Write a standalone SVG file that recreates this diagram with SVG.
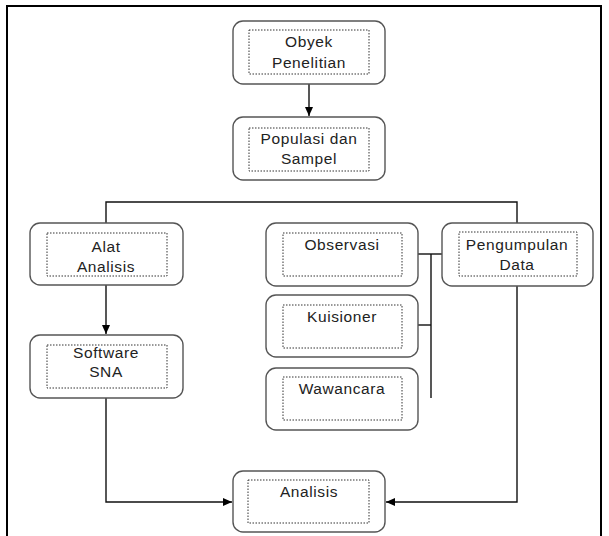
<svg xmlns="http://www.w3.org/2000/svg" width="609" height="536" viewBox="0 0 609 536">
<defs>
<marker id="ah" markerWidth="10" markerHeight="10" refX="9" refY="5" orient="auto" markerUnits="userSpaceOnUse">
<path d="M0,1 L9,5 L0,9 Z" fill="#000"/>
</marker>
</defs>
<style>
.box{fill:#fff;stroke:#555;stroke-width:1.4}
.inner{fill:none;stroke:#333;stroke-width:1;stroke-dasharray:1.5 1.5}
.t{font-family:"Liberation Sans",Arial,sans-serif;font-size:15.5px;letter-spacing:0.6px;fill:#222;text-anchor:middle}
.c{fill:none;stroke:#111;stroke-width:1.4}
</style>
<rect width="609" height="536" fill="#fff"/>
<path d="M7,536 V6 H601 V536" fill="none" stroke="#000" stroke-width="2"/>
<g id="connectors">
<path class="c" d="M309,84 V116" stroke="#555" marker-end="url(#ah)"/>
<path class="c" d="M106,223 V202 H517 V223"/>
<path class="c" d="M106,285 V334" marker-end="url(#ah)"/>
<path class="c" d="M106,398 V502 H232" marker-end="url(#ah)"/>
<path class="c" d="M517,286 V502 H386" marker-end="url(#ah)"/>
<path class="c" d="M418,254 H442"/>
<path class="c" d="M431,254 V398"/>
<path class="c" d="M418,325 H431"/>
</g>
<g id="obyek">
<rect class="box" x="233" y="21" width="152" height="63" rx="10"/>
<rect class="inner" x="249" y="30" width="120" height="44"/>
<text class="t" x="309" y="47">Obyek</text>
<text class="t" x="309" y="68">Penelitian</text>
</g>
<g id="populasi">
<rect class="box" x="233" y="117" width="152" height="63" rx="10"/>
<rect class="inner" x="249" y="128" width="120" height="43"/>
<text class="t" x="309" y="144">Populasi dan</text>
<text class="t" x="309" y="164">Sampel</text>
</g>
<g id="alat">
<rect class="box" x="30" y="223" width="153" height="62" rx="10"/>
<rect class="inner" x="47" y="233" width="120" height="43"/>
<text class="t" x="106" y="252">Alat</text>
<text class="t" x="106" y="272">Analisis</text>
</g>
<g id="observasi">
<rect class="box" x="266" y="223" width="152" height="63" rx="10"/>
<rect class="inner" x="283" y="233" width="119" height="43"/>
<text class="t" x="342" y="250">Observasi</text>
</g>
<g id="pengumpulan">
<rect class="box" x="442" y="223" width="151" height="63" rx="10"/>
<rect class="inner" x="459" y="232" width="118" height="44"/>
<text class="t" x="517" y="250">Pengumpulan</text>
<text class="t" x="517" y="270">Data</text>
</g>
<g id="kuisioner">
<rect class="box" x="266" y="295" width="152" height="62" rx="10"/>
<rect class="inner" x="283" y="305" width="119" height="43"/>
<text class="t" x="342" y="322">Kuisioner</text>
</g>
<g id="software">
<rect class="box" x="30" y="335" width="153" height="63" rx="10"/>
<rect class="inner" x="47" y="345" width="120" height="43"/>
<text class="t" x="106" y="358">Software</text>
<text class="t" x="106" y="377">SNA</text>
</g>
<g id="wawancara">
<rect class="box" x="266" y="368" width="152" height="62" rx="10"/>
<rect class="inner" x="283" y="377" width="119" height="43"/>
<text class="t" x="342" y="394">Wawancara</text>
</g>
<g id="analisis">
<rect class="box" x="233" y="471" width="152" height="61" rx="10"/>
<rect class="inner" x="248" y="480" width="121" height="43"/>
<text class="t" x="309" y="497">Analisis</text>
</g>
</svg>
